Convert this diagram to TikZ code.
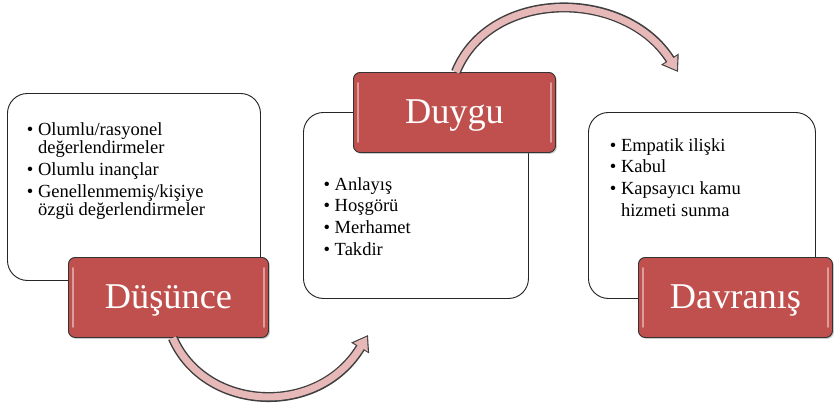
\documentclass[tikz,border=0pt]{standalone}
\usepackage{fontspec}
\setmainfont{Liberation Serif}
\usetikzlibrary{arrows.meta,shadows}
\definecolor{boxred}{HTML}{C0504D}
\definecolor{bandpink}{HTML}{E6B9B8}
\definecolor{edgegray}{HTML}{3F3F3F}
\newcommand{\blt}{\makebox[0.6em][l]{•}}
\newcommand{\ind}{\hspace*{0.6em}}
\tikzset{
  textbox/.style={draw=black!85, fill=white, rounded corners=0.6cm, line width=0.8pt, anchor=north west, inner sep=0pt},
  titlebox/.style={draw=black!80, fill=boxred, rounded corners=0.2cm, line width=0.8pt, anchor=north west,
    text=white, font=\fontsize{31}{36}\selectfont, text height=18pt, text depth=0pt, inner sep=0pt,
    minimum height=2.4cm, drop shadow={shadow xshift=1.2pt, shadow yshift=-1.2pt, opacity=0.4},
    path picture={
      \draw[white, opacity=0.45, line width=1.6pt, line cap=round]
        ([xshift=4pt,yshift=-9pt]path picture bounding box.north west) --
        ([xshift=4pt,yshift=9pt]path picture bounding box.south west);
      \draw[white, opacity=0.45, line width=1.6pt, line cap=round]
        ([xshift=-4pt,yshift=-9pt]path picture bounding box.north east) --
        ([xshift=-4pt,yshift=9pt]path picture bounding box.south east);
    }},
  listtext/.style={anchor=north west, inner sep=0pt, align=left, font=\fontsize{15.8}{18.7}\selectfont},
  bandout/.style={line width=8.5pt, draw=edgegray, -{Triangle[length=13pt,width=17pt]}},
  bandin/.style={line width=6pt, draw=bandpink, shorten >=1.6pt, -{Triangle[length=10.5pt,width=13.5pt]}}
}
\begin{document}
\begin{tikzpicture}[x=0.03cm,y=-0.03cm]
\useasboundingbox (0,0) rectangle (835,407);

% Boxes
\node[textbox, minimum width=7.59cm, minimum height=5.61cm] (box1) at (7,93) {};
\node[textbox, minimum width=6.75cm, minimum height=5.58cm] (box2) at (303,112) {};
\node[textbox, minimum width=6.81cm, minimum height=5.58cm] (box3) at (588,112) {};

% Lists
\node[listtext] (list1) at (26.7,122) {\blt Olumlu/rasyonel\\[-3.2pt]
  \ind değerlendirmeler\\
  \blt Olumlu inançlar\\
  \blt Genellenmemiş/kişiye\\[-3.2pt]
  \ind özgü değerlendirmeler};
\node[listtext] (list2) at (323.4,177) {\blt Anlayış\\
  \blt Hoşgörü\\
  \blt Merhamet\\
  \blt Takdir};
\node[listtext] (list3) at (609.7,138) {\blt Empatik ilişki\\
  \blt Kabul\\
  \blt Kapsayıcı kamu\\
  \ind hizmeti sunma};

% Titles
\node[titlebox, minimum width=6cm] (dusunce) at (68,257) {Düşünce};
\node[titlebox, minimum width=6.06cm] (duygu) at (353,72) {Duygu};
\node[titlebox, minimum width=5.82cm] (davranis) at (638,257) {Davranış};

% Arrows
\coordinate (tip1) at (368,335);
\coordinate (tip2) at (678,72);
\draw[bandout] (dusunce.-84) .. controls (205,412) and (318,418) .. (tip1);
\draw[bandin] (dusunce.-84) .. controls (205,412) and (318,418) .. (tip1);
\draw[bandout] (duygu.88) .. controls (490,-12) and (625,-12) .. (tip2);
\draw[bandin] (duygu.88) .. controls (490,-12) and (625,-12) .. (tip2);
\end{tikzpicture}
\end{document}
